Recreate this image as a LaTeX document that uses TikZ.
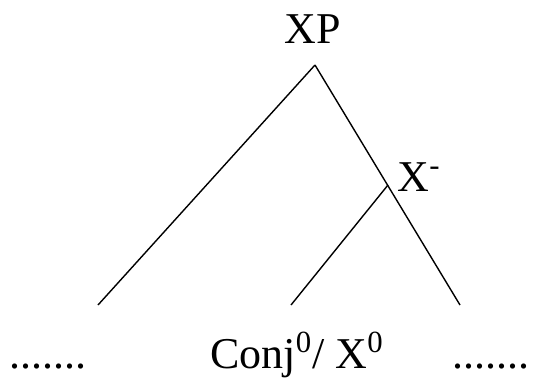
\documentclass[tikz,border=0pt]{standalone}
\usepackage{fontspec}
\setmainfont{Liberation Serif}
\begin{document}
\begin{tikzpicture}[x=0.5pt,y=-0.5pt,line width=0.7pt,
  every node/.style={font=\fontsize{22}{26}\selectfont, inner sep=0pt}]
  \useasboundingbox (0,0) rectangle (554,377);
  \coordinate (top) at (315,65);
  \coordinate (xbar) at (388,185);
  \coordinate (leftend) at (98,305);
  \coordinate (rightend) at (460,305);
  \coordinate (midend) at (291,305);
  \node[anchor=base] (xp) at (313,43) {XP};
  \node[anchor=base west] (xlab) at (397,191) {X\textsuperscript{-}};
  \node[anchor=base] (conj) at (297,368) {Conj\textsuperscript{0}/ X\textsuperscript{0}};
  \node[anchor=base west] (ldots) at (9,368) {.......};
  \node[anchor=base west] (rdots) at (452,368) {.......};
  \draw (top) -- (leftend);
  \draw (top) -- (rightend);
  \draw (xbar) -- (midend);
\end{tikzpicture}
\end{document}
